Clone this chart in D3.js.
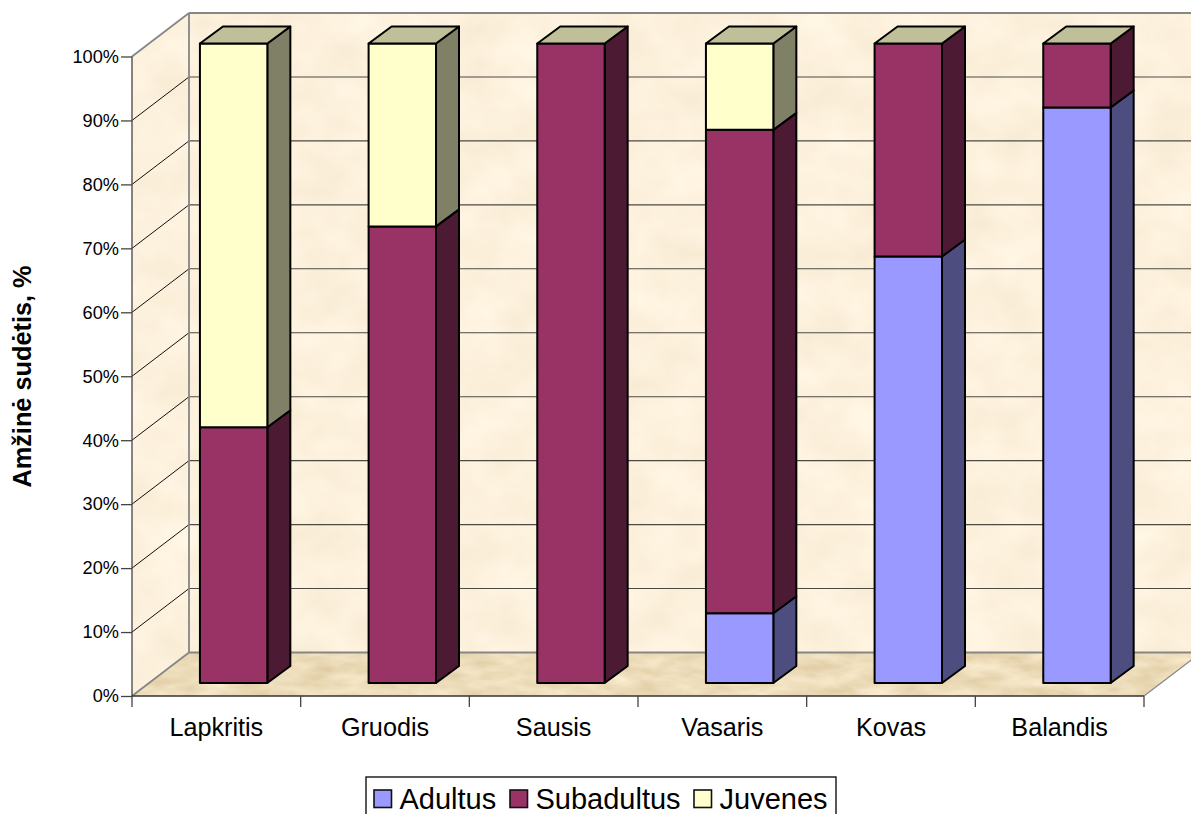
<!DOCTYPE html>
<html>
<head>
<meta charset="utf-8">
<script src="https://cdn.jsdelivr.net/npm/d3@7"></script>
<style>
html,body{margin:0;padding:0;background:#fff;overflow:hidden}
svg{display:block}
text{font-family:"Liberation Sans",Arial,sans-serif;fill:#000}
</style>
</head>
<body>
<svg id="chart" width="1191" height="814"></svg>
<script>
const categories = ["Lapkritis","Gruodis","Sausis","Vasaris","Kovas","Balandis"];
const seriesNames = ["Adultus","Subadultus","Juvenes"];
const adultus    = [0, 0, 0, 10.9, 66.7, 90];
const subadultus = [40, 71.4, 100, 75.6, 33.3, 10];
const juvenes    = [60, 28.6, 0, 13.5, 0, 0];
const percentTicks = [0,10,20,30,40,50,60,70,80,90,100];

const frontColors = ["#9999FF","#993366","#FFFFCC"];
const sideColors  = ["#4D4D80","#4D1A33","#808066"];
const topColor    = "#BFBF99";

const svg = d3.select("#chart");
const defs = svg.append("defs");

// Parchment and sand surfaces for the walls and floor
function surface(id, freq, tone, spread){
  const f = defs.append("filter").attr("id",id)
    .attr("x",0).attr("y",0).attr("width","100%").attr("height","100%")
    .attr("color-interpolation-filters","sRGB");
  f.append("feTurbulence").attr("type","fractalNoise")
    .attr("baseFrequency",freq).attr("numOctaves",3).attr("seed",7).attr("result","n");
  f.append("feColorMatrix").attr("in","n").attr("type","matrix")
    .attr("values",[
      spread[0],0,0,0,tone[0],
      spread[1],0,0,0,tone[1],
      spread[2],0,0,0,tone[2],
      0,0,0,0,1].join(" ")).attr("result","c");
  f.append("feComposite").attr("in","c").attr("in2","SourceAlpha").attr("operator","in");
}
surface("wallTex","0.02 0.025",[0.965,0.915,0.82],[0.05,0.06,0.09]);
surface("floorTex","0.03 0.08",[0.86,0.78,0.61],[0.14,0.17,0.24]);

// Projection: front plane of the axes, depth shift of the back wall and of the bar fronts
const depth = {dx:57, dy:-43.5};
const barShift = {dx:17.3, dy:-13};
const barDepth = {dx:23, dy:-17};
const barWidth = 67.4;

const x = d3.scaleBand().domain(categories).range([132,1144]);
const y = d3.scaleLinear().domain([0,100]).range([696,56.5]);
const x0 = x.range()[0], x1 = x.range()[1];
const pts = a => a.map(p=>p.join(",")).join(" ");

// Left wall, back wall, floor
svg.append("polygon").attr("filter","url(#wallTex)")
  .attr("points",pts([[x0,y(100)],[x0+depth.dx,y(100)+depth.dy],[x0+depth.dx,y(0)+depth.dy],[x0,y(0)]]));
svg.append("rect").attr("filter","url(#wallTex)")
  .attr("x",x0+depth.dx).attr("y",y(100)+depth.dy)
  .attr("width",x1-x0).attr("height",y(0)-y(100));
svg.append("polygon").attr("filter","url(#floorTex)")
  .attr("points",pts([[x0,y(0)],[x0+depth.dx,y(0)+depth.dy],[x1+depth.dx,y(0)+depth.dy],[x1,y(0)]]));

// Gridlines across both walls
const grid = svg.append("g");
percentTicks.filter(v=>v>0 && v<100).forEach(v=>{
  grid.append("line").attr("x1",x0).attr("y1",y(v))
    .attr("x2",x0+depth.dx).attr("y2",y(v)+depth.dy)
    .attr("stroke","#111").attr("stroke-width",1);
  grid.append("line").attr("x1",x0+depth.dx).attr("y1",y(v)+depth.dy)
    .attr("x2",x1+depth.dx).attr("y2",y(v)+depth.dy)
    .attr("stroke","#4d4a44").attr("stroke-width",1.1);
});

// Grey wall edges
const edge = (a,b,c,d,w=1.8) => svg.append("line").attr("x1",a).attr("y1",b).attr("x2",c).attr("y2",d)
  .attr("stroke","#868686").attr("stroke-width",w);
edge(x0+depth.dx,y(100)+depth.dy,x1+depth.dx,y(100)+depth.dy);
edge(x0+depth.dx,y(100)+depth.dy,x0+depth.dx,y(0)+depth.dy);
edge(x0+depth.dx,y(0)+depth.dy,x1+depth.dx,y(0)+depth.dy);
edge(x0,y(100),x0+depth.dx,y(100)+depth.dy);
edge(x0,y(0),x0+depth.dx,y(0)+depth.dy);
edge(x1,y(0),x1+depth.dx,y(0)+depth.dy,1.2);

// Percentage axis
const yAxis = d3.axisLeft(y).tickValues(percentTicks).tickFormat(d=>d+"%").tickSize(11).tickPadding(2);
const gy = svg.append("g").attr("transform",`translate(${x0},0)`).call(yAxis);
gy.select(".domain").attr("stroke","#444").attr("stroke-width",1.3).attr("d",`M0,${y(100)}V${y(0)}`);
gy.selectAll(".tick line").attr("stroke","#444").attr("stroke-width",1.3);
gy.selectAll(".tick text").attr("font-size",18.2).style("font-family",'"Liberation Sans",Arial,sans-serif');

// Category axis: ticks mark the band edges, labels sit at band centres
const gx = svg.append("g").attr("transform",`translate(0,${y(0)})`);
gx.append("line").attr("x1",x0).attr("x2",x1).attr("stroke","#333").attr("stroke-width",1.3);
[...categories.map(c=>x(c)),x1].forEach(px=>{
  gx.append("line").attr("x1",px).attr("x2",px).attr("y1",0).attr("y2",11)
    .attr("stroke","#444").attr("stroke-width",1.3);
});
gx.selectAll("text.cat").data(categories).join("text").attr("class","cat")
  .attr("x",c=>x(c)+x.bandwidth()/2).attr("y",40)
  .attr("text-anchor","middle").attr("font-size",25.2).text(c=>c);

// Stacked bars with side and top faces
const rows = categories.map((c,i)=>({category:c,Adultus:adultus[i],Subadultus:subadultus[i],Juvenes:juvenes[i]}));
const stacked = d3.stack().keys(seriesNames)(rows);
const yBar = v => y(v)+barShift.dy;
const barLeft = c => x(c)+x.bandwidth()/2+barShift.dx-barWidth/2;
const outline = {stroke:"#000","stroke-width":2,"stroke-linejoin":"round"};
const applyOutline = s => { Object.entries(outline).forEach(([k,v])=>s.attr(k,v)); return s; };

const bars = svg.append("g");
categories.forEach((c,ci)=>{
  const g = bars.append("g");
  const l = barLeft(c), r = l+barWidth;
  stacked.forEach((layer,si)=>{
    const [a,b] = layer[ci];
    if(b-a<=0) return;
    applyOutline(g.append("polygon")).attr("fill",sideColors[si])
      .attr("points",pts([[r,yBar(a)],[r+barDepth.dx,yBar(a)+barDepth.dy],[r+barDepth.dx,yBar(b)+barDepth.dy],[r,yBar(b)]]));
    applyOutline(g.append("rect")).attr("fill",frontColors[si])
      .attr("x",l).attr("y",yBar(b)).attr("width",barWidth).attr("height",yBar(a)-yBar(b));
  });
  applyOutline(g.append("polygon")).attr("fill",topColor)
    .attr("points",pts([[l,yBar(100)],[l+barDepth.dx,yBar(100)+barDepth.dy],[r+barDepth.dx,yBar(100)+barDepth.dy],[r,yBar(100)]]));
});

// Value axis title
svg.append("text").attr("transform","translate(31,376.5) rotate(-90)")
  .attr("text-anchor","middle").attr("font-size",25.3).attr("font-weight","bold")
  .text("Amžinė sudėtis, %");

// Legend
svg.append("rect").attr("x",366).attr("y",777).attr("width",470).attr("height",60)
  .attr("fill","#fff").attr("stroke","#000").attr("stroke-width",1.3);
const legendX = [374,510,694];
seriesNames.forEach((n,i)=>{
  svg.append("rect").attr("x",legendX[i]).attr("y",790).attr("width",17.5).attr("height",17.5)
    .attr("fill",frontColors[i]).attr("stroke","#111").attr("stroke-width",1.6);
  svg.append("text").attr("x",legendX[i]+25.5).attr("y",809).attr("font-size",29).text(n);
});
</script>
</body>
</html>
